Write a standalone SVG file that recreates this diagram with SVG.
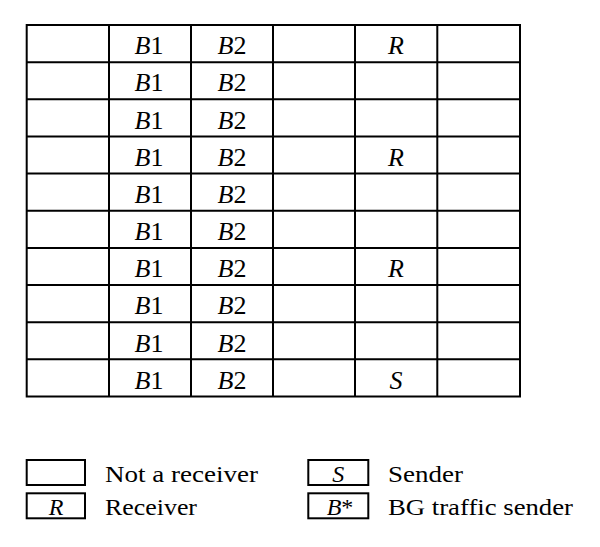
<svg xmlns="http://www.w3.org/2000/svg" width="600" height="547" viewBox="0 0 600 547">
<style>
.g{fill:none;stroke:#000;stroke-width:2}
.t{font-family:"Liberation Serif","Times New Roman",serif;font-size:26px;fill:#000;text-anchor:middle}
.i{font-style:italic}
.l{font-family:"Liberation Serif","Times New Roman",serif;font-size:24px;fill:#000}
</style>
<rect width="600" height="547" fill="#fff"/>
<g id="grid" class="g">
<rect x="26.7" y="25" width="493.3" height="371.5"/>
<path d="M109 25V396.5M191 25V396.5M273 25V396.5M355 25V396.5M437.3 25V396.5"/>
<path d="M26.7 62.15H520M26.7 99.3H520M26.7 136.45H520M26.7 173.6H520M26.7 210.75H520M26.7 247.9H520M26.7 285.05H520M26.7 322.2H520M26.7 359.35H520"/>
</g>
<g id="row1"><text class="t" x="149" y="54.3"><tspan class="i">B</tspan>1</text><text class="t" x="232" y="54.3"><tspan class="i">B</tspan>2</text><text class="t i" x="396" y="54.3">R</text></g>
<g id="row2"><text class="t" x="149" y="91.45"><tspan class="i">B</tspan>1</text><text class="t" x="232" y="91.45"><tspan class="i">B</tspan>2</text></g>
<g id="row3"><text class="t" x="149" y="128.6"><tspan class="i">B</tspan>1</text><text class="t" x="232" y="128.6"><tspan class="i">B</tspan>2</text></g>
<g id="row4"><text class="t" x="149" y="165.75"><tspan class="i">B</tspan>1</text><text class="t" x="232" y="165.75"><tspan class="i">B</tspan>2</text><text class="t i" x="396" y="165.75">R</text></g>
<g id="row5"><text class="t" x="149" y="202.9"><tspan class="i">B</tspan>1</text><text class="t" x="232" y="202.9"><tspan class="i">B</tspan>2</text></g>
<g id="row6"><text class="t" x="149" y="240.05"><tspan class="i">B</tspan>1</text><text class="t" x="232" y="240.05"><tspan class="i">B</tspan>2</text></g>
<g id="row7"><text class="t" x="149" y="277.2"><tspan class="i">B</tspan>1</text><text class="t" x="232" y="277.2"><tspan class="i">B</tspan>2</text><text class="t i" x="396" y="277.2">R</text></g>
<g id="row8"><text class="t" x="149" y="314.35"><tspan class="i">B</tspan>1</text><text class="t" x="232" y="314.35"><tspan class="i">B</tspan>2</text></g>
<g id="row9"><text class="t" x="149" y="351.5"><tspan class="i">B</tspan>1</text><text class="t" x="232" y="351.5"><tspan class="i">B</tspan>2</text></g>
<g id="row10"><text class="t" x="149" y="388.65"><tspan class="i">B</tspan>1</text><text class="t" x="232" y="388.65"><tspan class="i">B</tspan>2</text><text class="t i" x="396" y="388.65">S</text></g>
<g id="legend-not-receiver"><rect class="g" x="26.7" y="460" width="58.3" height="25"/><text class="l" x="105" y="481.5" textLength="153" lengthAdjust="spacingAndGlyphs">Not a receiver</text></g>
<g id="legend-receiver"><rect class="g" x="26.7" y="493.3" width="58.3" height="25"/><text class="l i" x="56" y="514.5" text-anchor="middle">R</text><text class="l" x="105" y="514.5" textLength="92" lengthAdjust="spacingAndGlyphs">Receiver</text></g>
<g id="legend-sender"><rect class="g" x="308.3" y="460" width="60" height="25"/><text class="l i" x="338.3" y="481.5" text-anchor="middle">S</text><text class="l" x="388" y="481.5" textLength="75" lengthAdjust="spacingAndGlyphs">Sender</text></g>
<g id="legend-bg"><rect class="g" x="308.3" y="493.3" width="60" height="25"/><text class="l" x="340" y="514.5" text-anchor="middle"><tspan class="i">B</tspan>*</text><text class="l" x="388" y="514.5" textLength="185" lengthAdjust="spacingAndGlyphs">BG traffic sender</text></g>
</svg>
